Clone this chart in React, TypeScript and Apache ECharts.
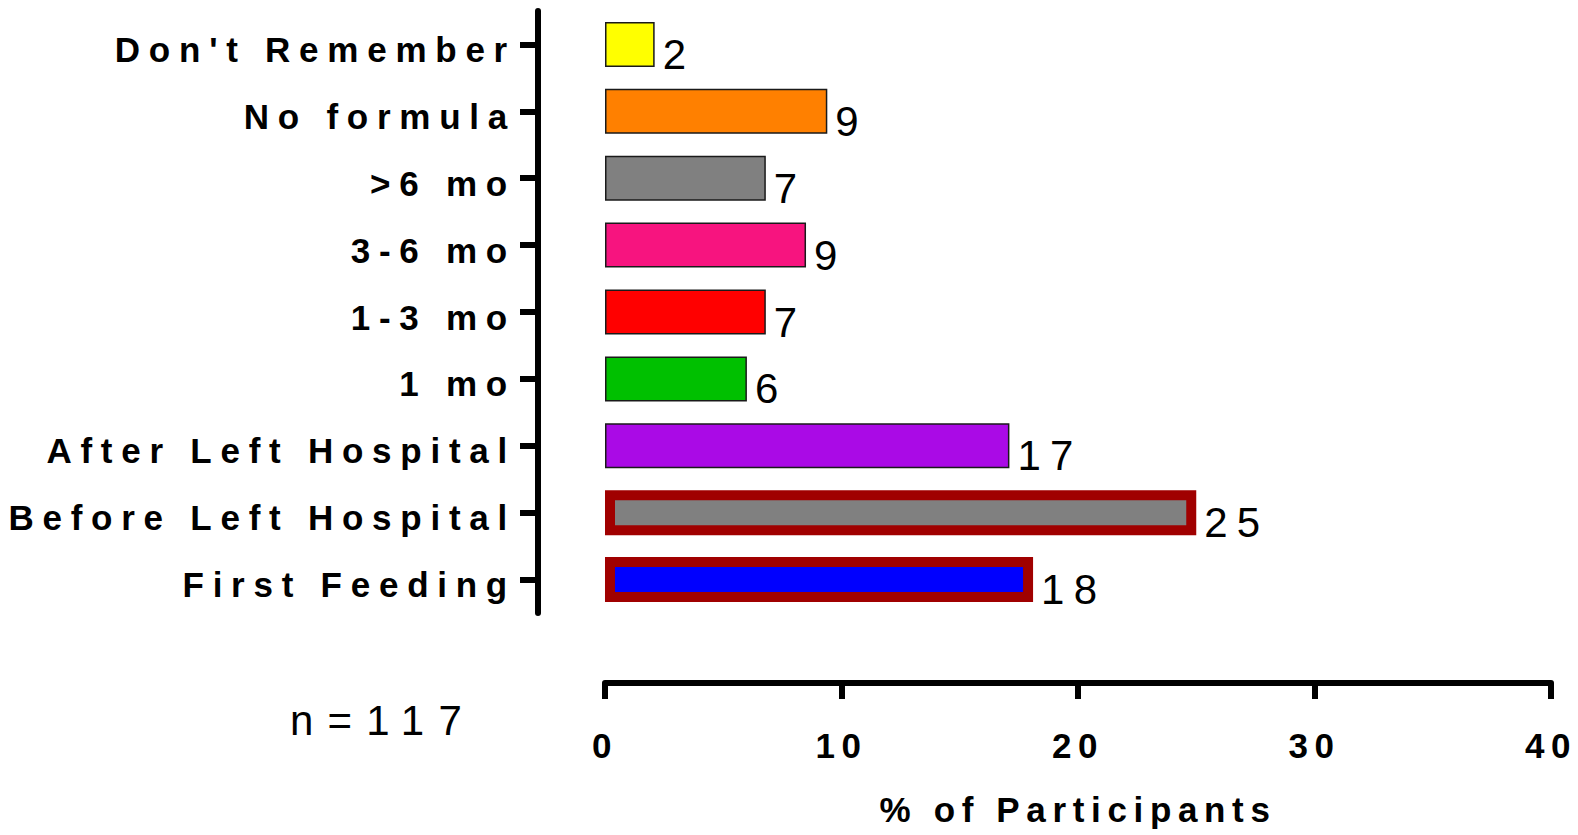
import React, { useEffect, useRef } from "react";
import * as echarts from "echarts";

// ---- data ----
const categories = [
  "Don't Remember",
  "No formula",
  ">6 mo",
  "3-6 mo",
  "1-3 mo",
  "1 mo",
  "After Left Hospital",
  "Before Left Hospital",
  "First Feeding",
];
const percentValues = [2.1, 9.4, 6.8, 8.5, 6.8, 6.0, 17.1, 25.0, 18.1];
const valueLabels = ["2", "9", "7", "9", "7", "6", "17", "25", "18"];
const xTickMin = 0;
const xTickMax = 40;
const xTickStep = 10;
const xAxisTitle = "% of Participants";
const sampleNote = "n=117";

// ---- styles ----
const barColors = [
  "#FFFF00",
  "#FF8000",
  "#808080",
  "#F7147F",
  "#FF0000",
  "#00C000",
  "#AA0AE6",
  "#808080",
  "#0000FF",
];
const highlighted = [false, false, false, false, false, false, false, true, true];
// distinct family strings let the stylesheet below give each text kind its own letter spacing
const CAT_FONT = "'Liberation Sans', Helvetica, sans-serif";
const AXIS_FONT = "'Liberation Sans', Arial, sans-serif";
const VALUE_FONT = "'Liberation Sans', sans-serif";
const NOTE_FONT = "'Liberation Sans', Arimo, sans-serif";

export default function App() {
  const ref = useRef<HTMLDivElement>(null);

  useEffect(() => {
    if (!ref.current) return;
    const chart = echarts.init(ref.current, undefined, { renderer: "svg" });
    const data = percentValues.map((v, i) => ({
      value: v,
      itemStyle: highlighted[i]
        ? { color: barColors[i], borderColor: "#A00000", borderWidth: 10 }
        : { color: barColors[i], borderColor: "#1a1a1a", borderWidth: 1.5 },
    }));
    chart.setOption({
      animation: false,
      backgroundColor: "#ffffff",
      grid: { left: 605, top: 11, width: 946, height: 602, containLabel: false },
      xAxis: {
        type: "value",
        min: xTickMin,
        max: xTickMax,
        interval: xTickStep,
        position: "bottom",
        offset: 70,
        splitLine: { show: false },
        axisLine: { show: true, onZero: false, lineStyle: { color: "#000", width: 6 } },
        axisTick: { show: true, length: 16, lineStyle: { color: "#000", width: 6 } },
        axisLabel: {
          margin: 62,
          verticalAlign: "middle",
          fontSize: 35,
          fontWeight: "bold",
          fontFamily: AXIS_FONT,
          color: "#000",
        },
        name: xAxisTitle,
        nameLocation: "middle",
        nameGap: 126,
        nameTextStyle: {
          fontSize: 35,
          fontWeight: "bold",
          fontFamily: AXIS_FONT,
          color: "#000",
          verticalAlign: "middle",
        },
      },
      yAxis: {
        type: "category",
        inverse: true,
        data: categories,
        offset: 67,
        axisLine: { show: true, onZero: false, lineStyle: { color: "#000", width: 6 } },
        axisTick: {
          show: true,
          alignWithLabel: true,
          length: 18,
          lineStyle: { color: "#000", width: 6 },
        },
        axisLabel: {
          interval: 0,
          margin: 22,
          fontSize: 35,
          fontWeight: "bold",
          fontFamily: CAT_FONT,
          color: "#000",
          verticalAlign: "top",
          lineHeight: 10,
        },
        splitLine: { show: false },
      },
      series: [
        {
          type: "bar",
          data,
          barWidth: 45,
          label: {
            show: true,
            position: "right",
            distance: 8,
            offset: [0, 10],
            fontSize: 42,
            fontFamily: VALUE_FONT,
            color: "#000",
            formatter: (p: any) => valueLabels[p.dataIndex],
          },
        },
      ],
      graphic: [
        {
          type: "text",
          x: 383,
          y: 720,
          style: {
            text: sampleNote,
            fill: "#000",
            fontSize: 42,
            fontFamily: NOTE_FONT,
            textAlign: "center",
            textVerticalAlign: "middle",
            align: "center",
            verticalAlign: "middle",
          },
        },
      ],
    });
    return () => chart.dispose();
  }, []);

  return (
    <>
      <style>
        {"#fig text{letter-spacing:0.22em;}" +
          '#fig text[style*="Helvetica"]{letter-spacing:0.25em;}' +
          '#fig text[style*="Arial"]{letter-spacing:0.19em;}' +
          '#fig text[style*="Arimo"]{letter-spacing:0.34em;}'}
      </style>
      <div
        id="fig"
        ref={ref}
        style={{ position: "fixed", left: 0, top: 0, width: 1578, height: 835, background: "#fff" }}
      />
    </>
  );
}
